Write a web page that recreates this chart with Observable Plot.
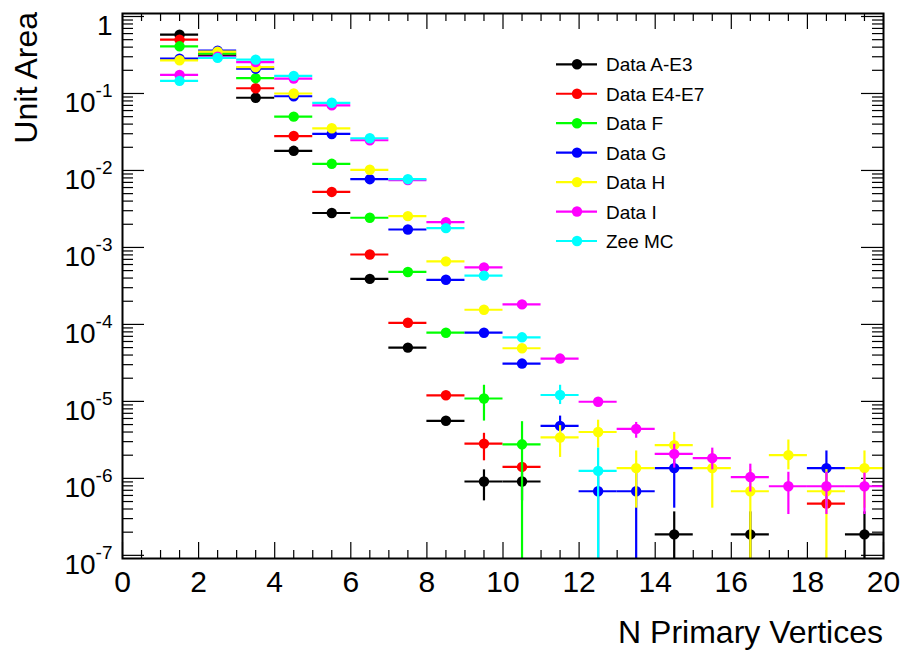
<!DOCTYPE html>
<html><head><meta charset="utf-8">
<script src="https://cdn.jsdelivr.net/npm/d3@7"></script>
<script src="https://cdn.jsdelivr.net/npm/@observablehq/plot@0.6"></script>
<style>
body{margin:0;background:#fff;}
#chart{width:906px;height:654px;}
</style>
</head><body><div id="chart"></div>
<script>
// ---------- data ----------
const bins = [1.5,2.5,3.5,4.5,5.5,6.5,7.5,8.5,9.5,10.5,11.5,12.5,13.5,14.5,15.5,16.5,17.5,18.5,19.5];
const binHalfWidth = 0.5;

const seriesNames  = ["Data A-E3","Data E4-E7","Data F","Data G","Data H","Data I","Zee MC"];
const seriesColors = ["#000000","#ff0000","#00ff00","#0000ff","#ffff00","#ff00ff","#00ffff"];

const valuesAE3 = [0.58,0.31,0.088,0.018,0.0028,0.00039,5.0e-5,5.6e-6,9.1e-7,9.1e-7,null,null,null,1.87e-7,null,1.87e-7,null,null,1.87e-7];
const valuesE4E7 = [0.50,0.33,0.117,0.028,0.00526,0.00081,1.05e-4,1.2e-5,2.83e-6,1.41e-6,null,null,null,null,null,null,null,4.7e-7,null];
const valuesF = [0.41,0.33,0.158,0.050,0.0122,0.00243,4.8e-4,7.8e-5,1.09e-5,2.77e-6,null,null,null,null,null,null,null,null,null];
const valuesG = [0.283,0.36,0.21,0.092,0.0298,0.0077,0.00171,3.8e-4,7.8e-5,3.1e-5,4.8e-6,6.8e-7,6.8e-7,1.36e-6,null,null,null,1.36e-6,null];
const valuesH = [0.27,0.35,0.22,0.100,0.0353,0.0102,0.00255,6.6e-4,1.55e-4,4.9e-5,3.4e-6,4.0e-6,1.36e-6,2.7e-6,1.36e-6,6.8e-7,2.0e-6,6.8e-7,1.36e-6];
const valuesI = [0.174,0.30,0.256,0.156,0.070,0.0247,0.0075,0.00213,5.5e-4,1.82e-4,3.6e-5,9.9e-6,4.4e-6,2.08e-6,1.83e-6,1.04e-6,7.9e-7,7.9e-7,7.9e-7];
const valuesZee = [0.146,0.29,0.275,0.169,0.0757,0.0262,0.0077,0.00178,4.3e-4,6.8e-5,1.21e-5,1.25e-6,null,null,null,null,null,null,null];

// vertical error bars: [bin, low, high]  (low 1e-8 = extends below the axis)
const errorsAE3 = [[9.5,5.1e-7,1.29e-6],[10.5,5.1e-7,1.29e-6],[14.5,1e-8,3.67e-7],[16.5,1e-8,3.67e-7],[19.5,1e-8,3.67e-7]];
const errorsE4E7 = [[9.5,1.69e-6,3.85e-6]];
const errorsF = [[9.5,5.55e-6,1.62e-5],[10.5,1e-8,5.45e-6]];
const errorsG = [[11.5,3.66e-6,6.44e-6],[12.5,1e-8,1.3e-6],[13.5,1e-8,1.3e-6],[14.5,4.1e-7,2.12e-6],[18.5,4.1e-7,2.27e-6]];
const errorsH = [[11.5,1.87e-6,4.84e-6],[12.5,2.47e-6,5.7e-6],[13.5,4.1e-7,2.27e-6],[14.5,1.87e-6,3.96e-6],[15.5,4.1e-7,2.27e-6],[16.5,1e-8,1.3e-6],[17.5,1.29e-6,3.15e-6],[18.5,1e-8,1.3e-6],[19.5,4.1e-7,2.27e-6]];
const errorsI = [[13.5,3.32e-6,5.33e-6],[14.5,1.36e-6,2.77e-6],[15.5,1.29e-6,2.47e-6],[16.5,6.65e-7,1.53e-6],[17.5,3.39e-7,1.2e-6],[18.5,3.39e-7,1.2e-6],[19.5,3.39e-7,1.17e-6]];
const errorsZee = [[11.5,9.1e-6,1.62e-5],[12.5,1e-8,2.47e-6]];

const seriesValues = [valuesAE3,valuesE4E7,valuesF,valuesG,valuesH,valuesI,valuesZee];
const seriesErrors = [errorsAE3,errorsE4E7,errorsF,errorsG,errorsH,errorsI,errorsZee];

// ticks
const xMajorTicks = [0,2,4,6,8,10,12,14,16,18,20];
const xMinorTicks = [0.5,1,1.5,2.5,3,3.5,4.5,5,5.5,6.5,7,7.5,8.5,9,9.5,10.5,11,11.5,12.5,13,13.5,14.5,15,15.5,16.5,17,17.5,18.5,19,19.5];
const yMajorTicks = [1e-7,1e-6,1e-5,1e-4,1e-3,1e-2,1e-1,1];
const yMinorMultipliers = [2,3,4,5,6,7,8,9];
const yMinorTicks = yMajorTicks.slice(0,-1).flatMap(d => yMinorMultipliers.map(m => m*d));

// ---------- layout ----------
const W = 906, H = 654;
const mT = 13, mB = 96, mL = 122, mR = 23;
const innerW = W - mL - mR, innerH = H - mT - mB;

const marks = [];
const tickStyle = {stroke: "#000", strokeWidth: 1.2};
// x ticks bottom & top
marks.push(Plot.ruleX(xMajorTicks, {x: d => d, insetTop: innerH - 16, ...tickStyle}));
marks.push(Plot.ruleX(xMinorTicks, {x: d => d, insetTop: innerH - 8, ...tickStyle}));
marks.push(Plot.ruleX(xMajorTicks, {x: d => d, insetBottom: innerH - 16, ...tickStyle}));
marks.push(Plot.ruleX(xMinorTicks, {x: d => d, insetBottom: innerH - 8, ...tickStyle}));
// y ticks left & right
marks.push(Plot.ruleY(yMajorTicks, {y: d => d, insetRight: innerW - 22, ...tickStyle}));
marks.push(Plot.ruleY(yMinorTicks, {y: d => d, insetRight: innerW - 11, ...tickStyle}));
marks.push(Plot.ruleY(yMajorTicks, {y: d => d, insetLeft: innerW - 22, ...tickStyle}));
marks.push(Plot.ruleY(yMinorTicks, {y: d => d, insetLeft: innerW - 11, ...tickStyle}));

seriesValues.forEach((vals, s) => {
  const color = seriesColors[s];
  const rows = bins.map((b, i) => ({x: b, y: vals[i]})).filter(d => d.y != null);
  marks.push(Plot.ruleY(rows, {y: "y", x1: d => d.x - binHalfWidth, x2: d => d.x + binHalfWidth, stroke: color, strokeWidth: 2.2, clip: true}));
  marks.push(Plot.ruleX(seriesErrors[s], {x: d => d[0], y1: d => d[1], y2: d => d[2], stroke: color, strokeWidth: 2.2, clip: true}));
  marks.push(Plot.dot(rows, {x: "x", y: "y", r: 5.2, fill: color, stroke: null, clip: true}));
});

marks.push(Plot.axisX({ticks: xMajorTicks, tickSize: 0, tickPadding: 12, fontSize: 30, tickFormat: d => String(d), label: null}));
marks.push(Plot.axisY({ticks: yMajorTicks, tickSize: 0, tickPadding: 10, fontSize: 28, dy: 10,
  tickFormat: d => d === 1 ? "1" : "10^" + Math.round(Math.log10(d)), label: null}));
marks.push(Plot.frame({stroke: "#000", strokeWidth: 2}));

const chart = Plot.plot({
  width: W, height: H,
  marginTop: mT, marginBottom: mB, marginLeft: mL, marginRight: mR,
  style: {fontFamily: "'Liberation Sans', Arial, Helvetica, sans-serif", background: "#fff", color: "#000", overflow: "visible"},
  x: {domain: [0, 20], label: null},
  y: {type: "log", domain: [9.1e-8, 1.094], label: null},
  marks
});
document.getElementById("chart").appendChild(chart);

const svg = d3.select(chart);
// superscript exponents on y tick labels
svg.selectAll('g[aria-label="y-axis tick label"] text').each(function() {
  const t = d3.select(this);
  const s = t.text();
  if (s.startsWith("10^")) {
    const exp = s.slice(3);
    t.text(null);
    t.append("tspan").text("10");
    t.append("tspan").attr("font-size", 19).attr("dy", -15).text(exp);
  }
});

// axis titles
svg.append("text").attr("x", 883).attr("y", 643).attr("text-anchor", "end")
  .attr("font-size", 32).attr("fill", "#000").text("N Primary Vertices");
svg.append("text").attr("transform", "translate(37,12) rotate(-90)").attr("text-anchor", "end")
  .attr("font-size", 32).attr("fill", "#000").text("Unit Area");

// legend
const lg = svg.append("g").attr("aria-label", "legend");
seriesNames.forEach((name, i) => {
  const yy = 64.3 + i * 29.45;
  const g = lg.append("g").attr("transform", `translate(0,${yy})`);
  g.append("line").attr("x1", 556).attr("x2", 597).attr("stroke", seriesColors[i]).attr("stroke-width", 2.2);
  g.append("circle").attr("cx", 577).attr("r", 5.2).attr("fill", seriesColors[i]);
  g.append("text").attr("x", 606).attr("y", 7).attr("text-anchor", "start")
    .attr("font-size", 19).attr("fill", "#000").text(name);
});
</script>
</body></html>
